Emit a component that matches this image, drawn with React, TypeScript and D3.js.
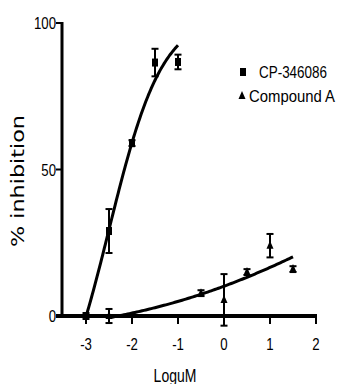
import React from 'react';
import * as d3 from 'd3';

// CP-346086 data (log uM, % inhibition, SEM)
const cpX = [-3, -2.5, -2, -1.5, -1];
const cpY = [0, 29, 59, 86.5, 86.7];
const cpErr = [1, 7.5, 1, 4.7, 2.5];

// Compound A data
const caX = [-2.5, -0.5, 0, 0.5, 1, 1.5];
const caY = [0, 7.8, 5.5, 15, 24, 16];
const caErr = [2.4, 1, 8.8, 1, 4, 1];

// fitted sigmoid parameters [bottom, top, logEC50, hill]
const cpFit = [-43.7, 102.7, -2.5, 0.747];
const caFit = [-8.7, 72.9, 3, 0.174];

const xTicks = [-3, -2, -1, 0, 1, 2];
const yTicks = [0, 50, 100];

const W = 337;
const H = 384;

const hill = (p: number[]) => (x: number) =>
  p[0] + (p[1] - p[0]) / (1 + Math.pow(10, (p[2] - x) * p[3]));

const font = '"Liberation Sans", Arial, sans-serif';

// narrow-looking text: Liberation Sans squeezed horizontally
const NText = ({ x, y, size, anchor, children }: { x: number; y: number; size: number; anchor?: string; children: React.ReactNode }) => (
  <text
    transform={`translate(${x},${y}) scale(0.8,1)`}
    textAnchor={anchor || 'start'}
    fontFamily={font}
    fontSize={size}
  >{children}</text>
);

const App: React.FC = () => {
  const x = d3.scaleLinear().domain([-3.5, 2]).range([63, 316]);
  const y = d3.scaleLinear().domain([0, 100]).range([316, 23]);

  const curve = (p: number[], from: number, to: number) => {
    const f = hill(p);
    const xs = d3.range(0, 101).map(i => from + (to - from) * i / 100);
    return d3.line<number>().x(d => x(d)).y(d => y(f(d)))(xs) || '';
  };

  const errBar = (cx: number, cy: number, e: number, key: string) => {
    const px = x(cx);
    const top = y(cy + e);
    const bot = y(cy - e);
    return (
      <g key={key} stroke="#000" strokeWidth={2}>
        <line x1={px} x2={px} y1={top} y2={bot} />
        <line x1={px - 3.5} x2={px + 3.5} y1={top} y2={top} />
        <line x1={px - 3.5} x2={px + 3.5} y1={bot} y2={bot} />
      </g>
    );
  };

  const square = (px: number, py: number, key: string) => (
    <rect key={key} x={px - 3} y={py - 4} width={6} height={8} fill="#000" />
  );
  const tri = (px: number, py: number, key: string) => (
    <path key={key} d={`M${px},${py - 5}L${px + 3.5},${py + 3}L${px - 3.5},${py + 3}Z`} fill="#000" />
  );

  return (
    <svg width={W} height={H} style={{ position: 'absolute', left: 0, top: 0, background: '#fff' }}>
      {/* axes */}
      <line x1={62} x2={62} y1={22} y2={317} stroke="#000" strokeWidth={3} />
      <line x1={56} x2={317} y1={316} y2={316} stroke="#000" strokeWidth={4} />
      {yTicks.map(t => (
        <g key={'yt' + t}>
          <line x1={56} x2={62} y1={y(t)} y2={y(t)} stroke="#000" strokeWidth={2} />
          <NText x={56} y={y(t) + 6} size={16.5} anchor="end">{t}</NText>
        </g>
      ))}
      {xTicks.map(t => (
        <g key={'xt' + t}>
          <line x1={x(t)} x2={x(t)} y1={316} y2={324} stroke="#000" strokeWidth={2} />
          <NText x={x(t)} y={350} size={16.5} anchor="middle">{t}</NText>
        </g>
      ))}
      <NText x={175} y={382} size={17.5} anchor="middle">LoguM</NText>
      <text
        transform="translate(24,181) rotate(-90)"
        textAnchor="middle"
        fontFamily='"DejaVu Sans", sans-serif'
        fontSize={18}
        textLength={132}
        lengthAdjust="spacingAndGlyphs"
      >% inhibition</text>

      {/* curves */}
      <path d={curve(cpFit, -3, -1)} fill="none" stroke="#000" strokeWidth={3} />
      <path d={curve(caFit, -2.45, 1.5)} fill="none" stroke="#000" strokeWidth={3} />

      {/* CP-346086 */}
      {cpX.map((v, i) => errBar(v, cpY[i], cpErr[i], 'ce' + i))}
      {cpX.map((v, i) => square(x(v), y(cpY[i]), 'cs' + i))}

      {/* Compound A */}
      {caX.map((v, i) => errBar(v, caY[i], caErr[i], 'ae' + i))}
      {caX.map((v, i) => tri(x(v), y(caY[i]), 'at' + i))}

      {/* legend */}
      {square(243, 72, 'ls')}
      <text x={259} y={78} fontFamily={font} fontSize={17} textLength={68} lengthAdjust="spacingAndGlyphs">CP-346086</text>
      {tri(242, 96, 'lt')}
      <text x={249} y={102} fontFamily={font} fontSize={17} textLength={86} lengthAdjust="spacingAndGlyphs">Compound A</text>
    </svg>
  );
};

export default App;
